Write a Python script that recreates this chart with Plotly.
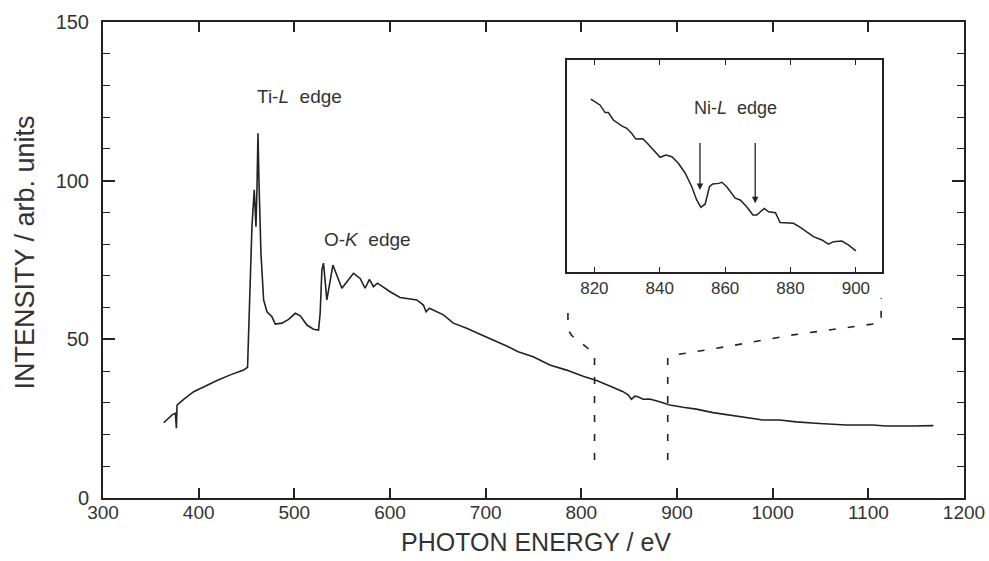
import plotly.graph_objects as go

# ---------------- data ----------------
energy = [363.5, 372.2, 375.7, 376.7, 377.4, 384.3, 394.8, 405.2, 419.2, 433.1,
          447.0, 451.1, 454.0, 455.7, 458.1, 459.9, 461.0, 462.0, 463.0, 465.1,
          467.9, 471.4, 476.6, 480.1, 487.1, 494.0, 501.0, 506.2, 513.2, 520.0,
          525.3, 527.0, 528.8, 530.5, 534.0, 540.3, 549.7, 561.8, 568.8, 574.0,
          578.5, 582.7, 586.9, 600.1, 610.5, 628.0, 634.9, 637.7, 641.2, 655.8,
          666.2, 680.2, 694.1, 707.9, 721.9, 734.0, 749.7, 767.1, 784.5, 801.9,
          815.9, 829.8, 843.6, 848.9, 852.4, 855.9, 859.3, 864.5, 871.5, 881.9,
          892.4, 906.3, 920.2, 937.6, 955.0, 972.4, 989.8, 1007.2, 1024.6, 1049.0,
          1076.8, 1104.6, 1118.6, 1146.4, 1168.0]
intensity = [23.7, 26.2, 26.7, 22.0, 29.3, 31.1, 33.5, 35.1, 37.0, 38.8,
             40.3, 41.2, 66.6, 85.5, 97.1, 85.5, 98.1, 114.9, 100.2, 77.1,
             62.4, 58.7, 57.1, 54.8, 55.1, 56.3, 58.2, 57.4, 54.5, 53.2,
             52.9, 58.2, 71.9, 74.0, 62.4, 73.4, 66.1, 70.8, 69.2, 66.1,
             68.9, 66.6, 67.7, 65.0, 63.2, 62.4, 60.8, 58.7, 59.8, 57.7,
             55.1, 53.5, 51.6, 49.8, 47.9, 46.1, 44.5, 41.9, 40.3, 38.4,
             37.0, 35.3, 33.5, 32.5, 31.1, 32.1, 31.9, 31.1, 31.2, 30.3,
             29.3, 28.6, 28.0, 26.9, 26.2, 25.4, 24.6, 24.6, 24.0, 23.5,
             23.0, 23.0, 22.7, 22.7, 22.8]

# inset (arbitrary units)
inset_energy = [818.9, 821.7, 823.3, 824.3, 825.8, 828.4, 829.9, 831.4, 832.7, 834.8,
                836.2, 838.1, 840.1, 841.9, 843.7, 845.7, 847.8, 849.8, 851.3, 852.6,
                853.9, 855.2, 856.2, 858.0, 859.0, 860.5, 862.1, 863.1, 864.6, 866.6,
                868.5, 869.7, 870.8, 872.0, 873.3, 875.4, 876.8, 878.9, 880.9, 883.0,
                885.0, 887.0, 889.6, 891.6, 893.2, 895.7, 897.8, 900.0]
inset_intensity = [81.5, 78.8, 75.2, 75.2, 71.7, 68.9, 67.8, 65.4, 62.7, 62.9,
                   60.7, 57.5, 54.1, 55.2, 54.4, 51.3, 46.6, 40.2, 34.0, 30.5,
                   32.1, 40.2, 41.5, 41.8, 42.3, 40.2, 37.1, 34.8, 34.0, 30.8,
                   26.9, 26.9, 28.4, 30.0, 28.4, 28.0, 23.3, 23.3, 23.0, 21.1,
                   19.0, 16.7, 15.1, 13.1, 14.3, 14.6, 12.7, 10.0]

ni_edges = [852.3, 869.2]
ni_arrow_heads = [38.7, 32.4]

x_ticks = [300, 400, 500, 600, 700, 800, 900, 1000, 1100, 1200]
y_ticks = [0, 50, 100, 150]
inset_ticks = [820, 840, 860, 880, 900]

# connector (dashed) paths, in main-axis data units
conn_left_x = [813.8, 813.8, 790.0, 786.0, 786.0]
conn_left_y = [12.0, 45.5, 51.2, 53.0, 61.0]
conn_right_x = [890.3, 890.3, 894.2, 951.6, 1021.1, 1111.6, 1113.4, 1113.4]
conn_right_y = [12.0, 44.2, 44.9, 47.7, 51.4, 55.1, 55.8, 63.0]

INK = "#222222"
TXT = "#333333"
FONT = "Liberation Sans, Arial, Helvetica, sans-serif"

fig = go.Figure()
fig.add_trace(go.Scatter(x=energy, y=intensity, mode="lines",
                         line=dict(color=INK, width=1.6), showlegend=False,
                         xaxis="x", yaxis="y"))
fig.add_trace(go.Scatter(x=inset_energy, y=inset_intensity, mode="lines",
                         line=dict(color=INK, width=1.5), showlegend=False,
                         xaxis="x2", yaxis="y2"))

W, H = 989, 561
L, R, T, B = 102.5, 989 - 964, 22, 561 - 498
PW, PH = 964 - L, 498 - T


def path(xs, ys):
    return "M " + " L ".join(f"{a},{b}" for a, b in zip(xs, ys))


shapes = [
    dict(type="path", path=path(conn_left_x, conn_left_y), xref="x", yref="y",
         line=dict(color=INK, width=1.6, dash="7px,12px")),
    dict(type="path", path=path(conn_right_x, conn_right_y), xref="x", yref="y",
         line=dict(color=INK, width=1.6, dash="7px,12px")),
]

annotations = [
    dict(text="Ti-<i>L</i>\u00a0 edge", x=505, y=126.4, xref="x", yref="y",
         showarrow=False, font=dict(size=19, color=TXT, family=FONT)),
    dict(text="O-<i>K</i>\u00a0 edge", x=576, y=81.6, xref="x", yref="y",
         showarrow=False, font=dict(size=19, color=TXT, family=FONT)),
    dict(text="Ni-<i>L</i>\u00a0 edge", x=863.3, y=77.2, xref="x2", yref="y2",
         showarrow=False, font=dict(size=18, color=TXT, family=FONT)),
    dict(text="PHOTON ENERGY / eV", x=(536 - L) / PW, y=(498 - 542) / PH,
         xref="paper", yref="paper", xanchor="center", yanchor="middle",
         showarrow=False, font=dict(size=25, color=TXT, family=FONT)),
    dict(text="INTENSITY / arb. units", x=(24 - L) / PW, y=(498 - 253) / PH,
         xref="paper", yref="paper", xanchor="center", yanchor="middle",
         showarrow=False, textangle=-90,
         font=dict(size=27, color=TXT, family=FONT)),
]
for xe, yh in zip(ni_edges, ni_arrow_heads):
    annotations.append(dict(x=xe, y=yh, ax=xe, ay=61.5, xref="x2", yref="y2",
                            axref="x2", ayref="y2", text="", showarrow=True,
                            arrowhead=2, arrowsize=1.0, arrowwidth=1.3,
                            arrowcolor=INK))

fig.update_layout(
    width=W, height=H,
    margin=dict(l=L, r=R, t=T, b=B, autoexpand=False),
    plot_bgcolor="white", paper_bgcolor="white",
    font=dict(family=FONT, color=TXT),
    shapes=shapes, annotations=annotations,
    xaxis=dict(range=[300, 1200], tickvals=x_ticks, ticks="inside", ticklen=10,
               tickwidth=1.6, tickcolor=INK, showline=True, linecolor=INK,
               linewidth=2, mirror="ticks", showgrid=False, zeroline=False,
               automargin=False,
               tickfont=dict(size=19, color=TXT, family=FONT), ticklabelstandoff=-4),
    yaxis=dict(range=[0, 150], tickvals=y_ticks, ticks="inside", ticklen=12,
               tickwidth=1.6, tickcolor=INK, showline=True, linecolor=INK,
               linewidth=2, mirror="ticks", showgrid=False, zeroline=False,
               automargin=False,
               tickfont=dict(size=20, color=TXT, family=FONT), ticklabelstandoff=8,
               minor=dict(dtick=10, ticks="inside", ticklen=7, tickwidth=1.4,
                          tickcolor=INK, showgrid=False)),
    xaxis2=dict(domain=[(567 - L) / PW, (882 - L) / PW],
                anchor="y2", range=[811.7, 908], tickvals=inset_ticks,
                ticks="inside", ticklen=5, tickwidth=1.2, tickcolor=INK,
                showline=True, linecolor=INK, linewidth=1.5, mirror="ticks",
                showgrid=False, zeroline=False, automargin=False,
                tickfont=dict(size=17, color=TXT, family=FONT)),
    yaxis2=dict(domain=[(498 - 272) / PH, (498 - 60) / PH], anchor="x2",
                range=[0, 100], showticklabels=False, ticks="",
                showline=True, linecolor=INK, linewidth=1.5, mirror=True,
                showgrid=False, zeroline=False, automargin=False),
)

fig.write_html("out.html")
